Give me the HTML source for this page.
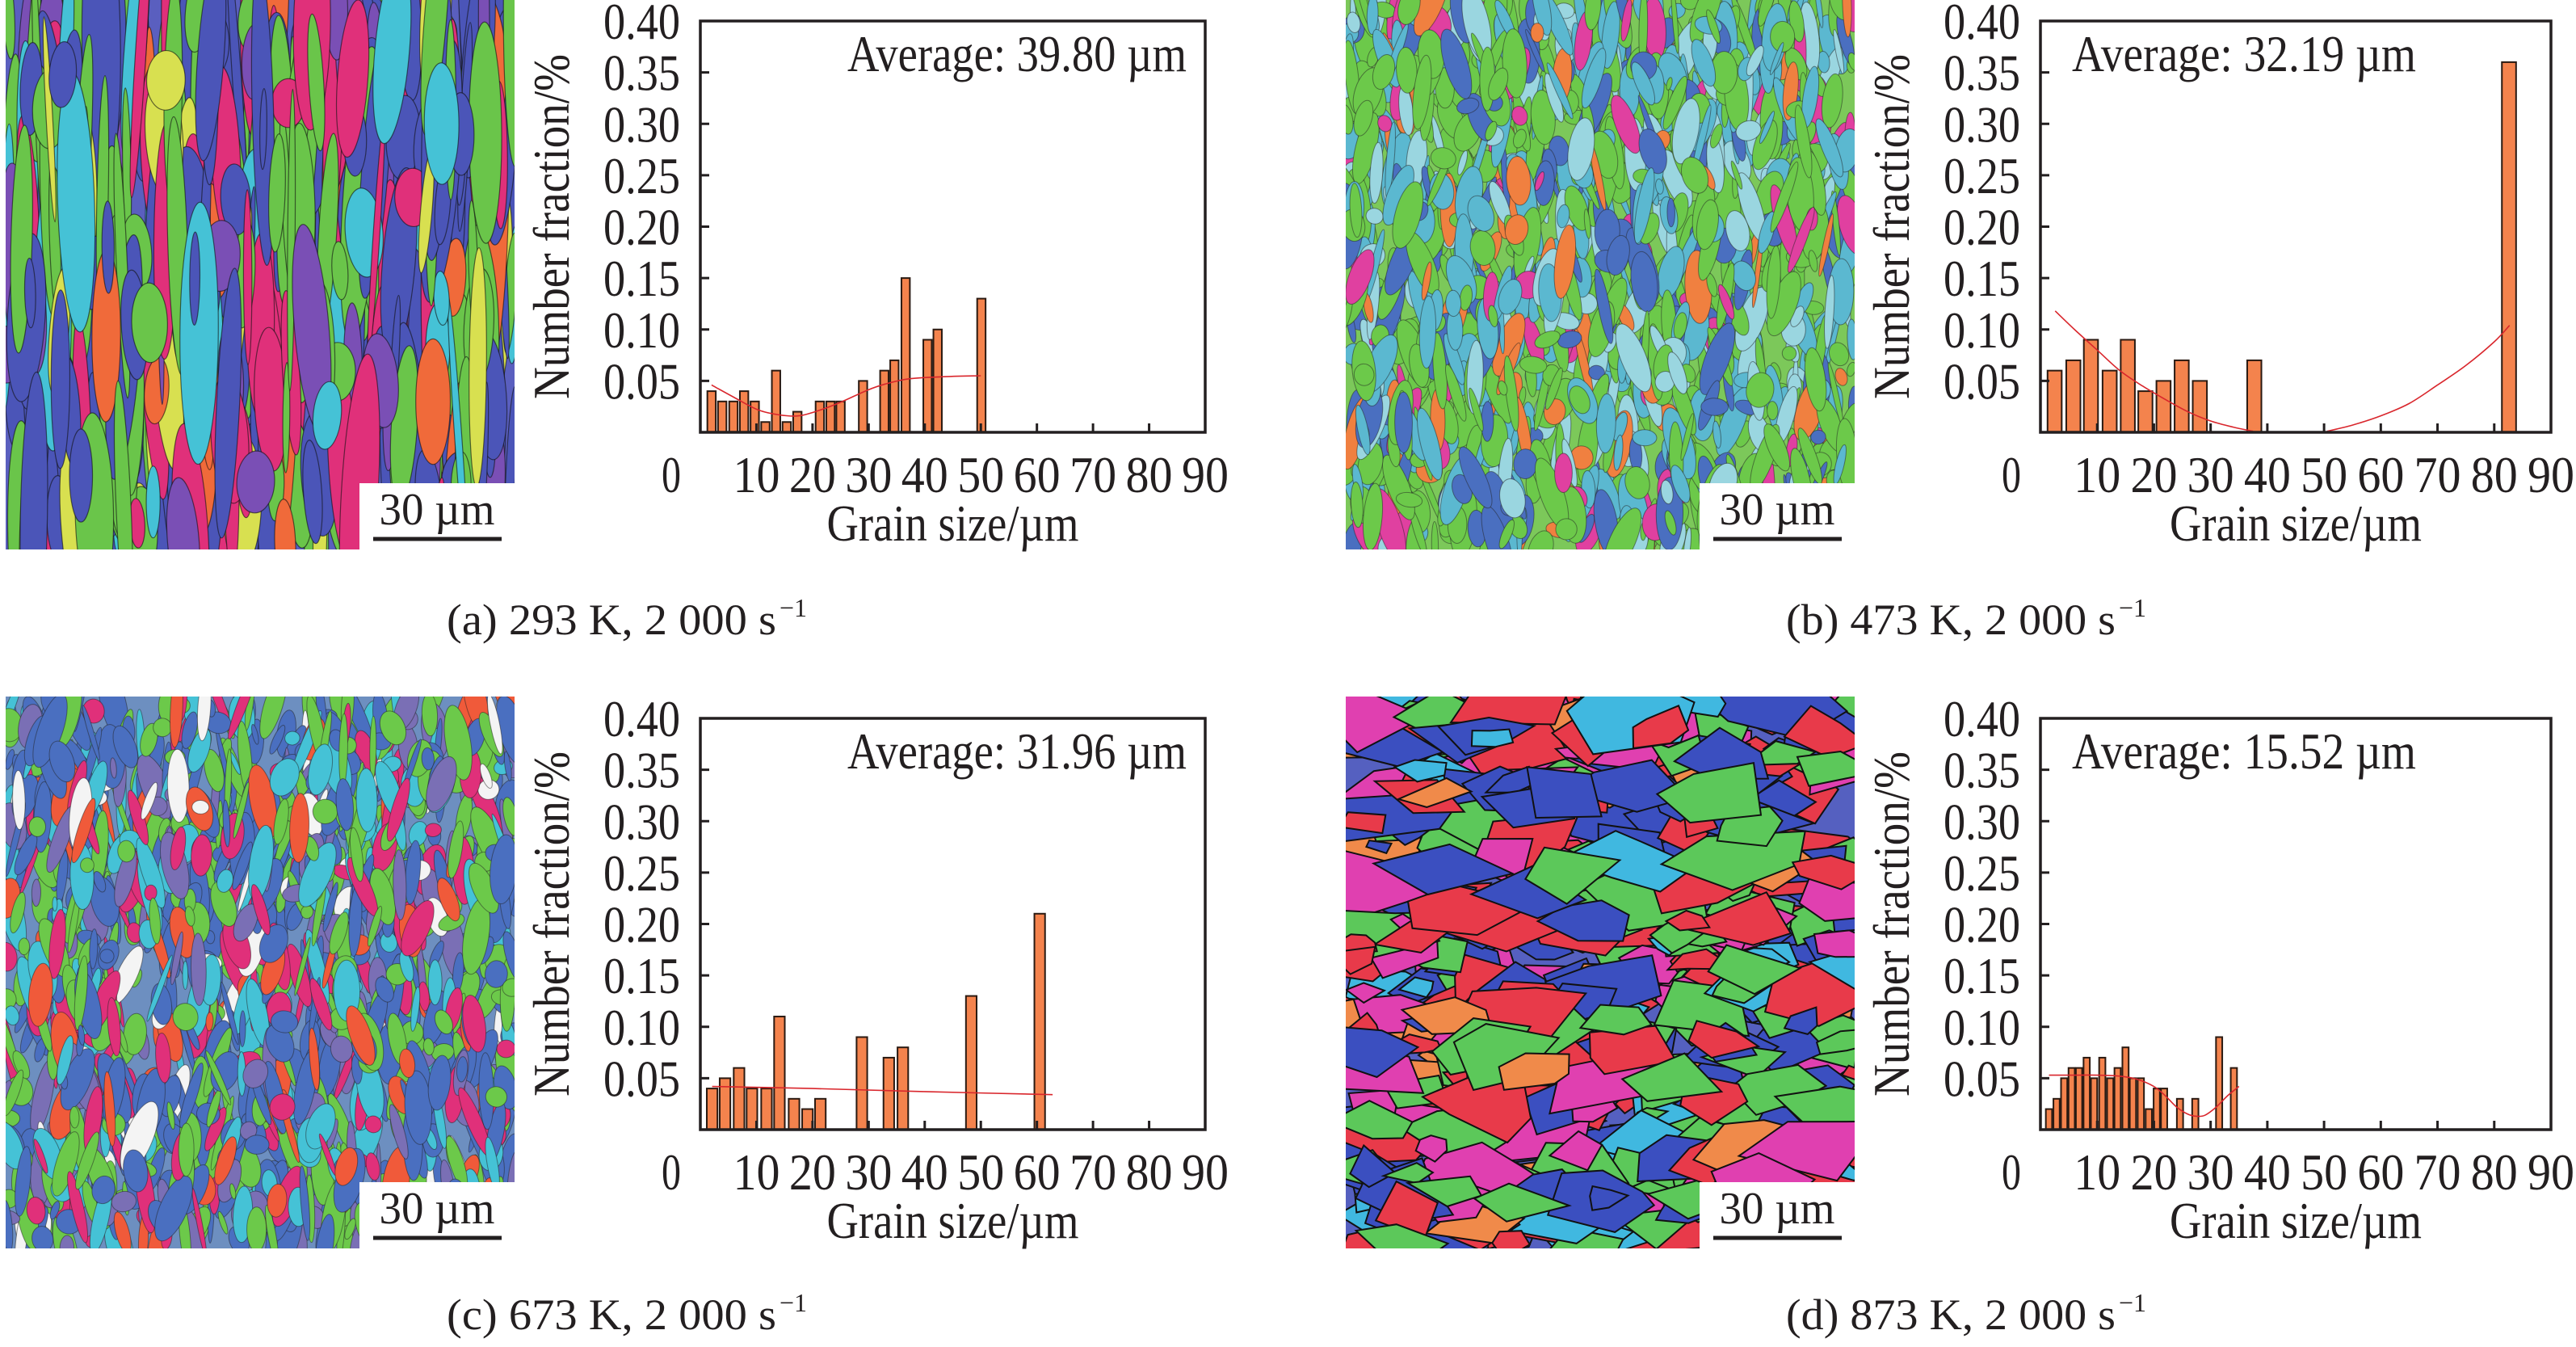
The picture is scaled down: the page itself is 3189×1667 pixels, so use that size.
<!DOCTYPE html>
<html><head><meta charset="utf-8">
<style>
html,body{margin:0;padding:0;background:#fff;}
svg{display:block;}
text{font-family:"Liberation Serif",serif;fill:#231f20;}
</style></head>
<body>
<svg id="fig" xmlns="http://www.w3.org/2000/svg" width="3189" height="1667" viewBox="0 0 3189 1667">
<rect x="0" y="0" width="3189" height="1667" fill="#fff"/>
<g id="micros"></g>
<g id="charts"></g>
<g id="captions"></g>
</svg>
<script>
// ---------- Panel (a) data ----------
const aCats = [2.0,3.9,5.9,7.8,9.7,11.6,13.5,15.4,17.3,21.3,23.2,25.0,29.0,32.8,34.6,36.6,40.5,42.3,50.1];
const aVals = [0.04,0.03,0.03,0.04,0.03,0.01,0.06,0.01,0.02,0.03,0.03,0.03,0.05,0.06,0.07,0.15,0.09,0.10,0.13];
const aFitX = [2,6,10.2,14,17.5,21,24.9,29.8,33,37.2,43,50];
const aFitY = [0.046,0.034,0.022,0.017,0.016,0.021,0.029,0.041,0.047,0.052,0.054,0.055];
// ---------- Panel (b) data ----------
const bCats = [2.5,5.8,8.9,12.2,15.4,18.5,21.7,24.9,28.1,37.7,82.6];
const bVals = [0.06,0.07,0.09,0.06,0.09,0.04,0.05,0.07,0.05,0.07,0.36];
const bFitX1 = [2.6,6,10,14,18,22,26,30,34,37.5];
const bFitY1 = [0.118,0.100,0.080,0.060,0.045,0.032,0.020,0.011,0.005,0.001];
const bFitX2 = [50.5,55,60,65,70,75,80,82.7];
const bFitY2 = [0.001,0.007,0.016,0.028,0.046,0.065,0.088,0.104];
// ---------- Panel (c) data ----------
const cCats = [2.1,4.4,6.9,9.2,11.8,14.1,16.7,19.1,21.4,28.8,33.6,36.1,48.3,60.5];
const cVals = [0.04,0.05,0.06,0.04,0.04,0.11,0.03,0.02,0.03,0.09,0.07,0.08,0.13,0.21];
const cFitX = [2.1,20,40,62.8];
const cFitY = [0.042,0.040,0.037,0.034];
// ---------- Panel (d) data ----------
const dCats = [1.5,2.84,4.18,5.5,6.8,8.15,9.45,10.9,12.3,13.6,15.0,16.3,17.7,19.1,20.5,21.8,24.6,27.3,31.5,34.1];
const dVals = [0.02,0.03,0.05,0.06,0.06,0.07,0.05,0.07,0.05,0.06,0.08,0.05,0.05,0.02,0.04,0.04,0.03,0.03,0.09,0.06];
const dFitX = [1.5,5,10,14,17,20,22,24,26,27.5,29,31,33,35];
const dFitY = [0.053,0.053,0.053,0.052,0.049,0.042,0.033,0.022,0.015,0.013,0.014,0.022,0.033,0.042];
const xTicks = [10,20,30,40,50,60,70,80,90];
const yTicks = [0.05,0.10,0.15,0.20,0.25,0.30,0.35,0.40];
const yTickLabels = ["0.05","0.10","0.15","0.20","0.25","0.30","0.35","0.40"];

const NS = "http://www.w3.org/2000/svg";
function mk(tag, attrs, parent){
  const e = document.createElementNS(NS, tag);
  for (const k in attrs) e.setAttribute(k, attrs[k]);
  parent.appendChild(e);
  return e;
}
function smoothPath(pts){
  let d = "M"+pts[0][0]+","+pts[0][1];
  for (let i=0;i<pts.length-1;i++){
    const p0=pts[Math.max(0,i-1)], p1=pts[i], p2=pts[i+1], p3=pts[Math.min(pts.length-1,i+2)];
    const c1x=p1[0]+(p2[0]-p0[0])/6, c1y=p1[1]+(p2[1]-p0[1])/6;
    const c2x=p2[0]-(p3[0]-p1[0])/6, c2y=p2[1]-(p3[1]-p1[1])/6;
    d += " C"+c1x+","+c1y+" "+c2x+","+c2y+" "+p2[0]+","+p2[1];
  }
  return d;
}

function drawChart(key, L, R, T, B, cats, vals, barUnits, fits, avg, avgRight){
  const root = document.getElementById("charts");
  const g = mk("g", {}, root);
  
  
  const x = v => L + v/90*(R-L);
  const y = v => B - v/0.4*(B-T);
  const bw = barUnits/90*(R-L);
  for (let i=0;i<cats.length;i++){
    const r = mk("rect", {x:x(cats[i])-bw/2, y:y(vals[i]), width:bw, height:B-y(vals[i]), fill:"#f4834d", stroke:"#2a1a12", "stroke-width":2}, g);
    
    
  }
  for (const f of fits){
    const pts = f[0].map((v,i)=>[x(v), y(f[1][i])]);
    const p = mk("path", {d:smoothPath(pts), fill:"none", stroke:"#d9262c", "stroke-width":1.6}, g);
    
    
  }
  const fr = mk("rect", {x:L, y:T, width:R-L, height:B-T, fill:"none", stroke:"#231f20", "stroke-width":3.5}, g);
  
  
  for (let i=0;i<yTicks.length;i++){
    const yy = y(yTicks[i]);
    if (i < yTicks.length-1) mk("line", {x1:L, x2:L+11, y1:yy, y2:yy, stroke:"#231f20", "stroke-width":3}, g);
    const t = mk("text", {x:L-25, y:yy+22, "text-anchor":"end", "font-size":64, textLength:95, lengthAdjust:"spacingAndGlyphs"}, g);
    t.textContent = yTickLabels[i];
    
    
  }
  for (let i=0;i<xTicks.length;i++){
    const xx = x(xTicks[i]);
    if (i < xTicks.length-1) mk("line", {x1:xx, x2:xx, y1:B, y2:B-11, stroke:"#231f20", "stroke-width":3}, g);
    const t = mk("text", {x:xx, y:B+74, "text-anchor":"middle", "font-size":64, textLength:58, lengthAdjust:"spacingAndGlyphs"}, g);
    t.textContent = String(xTicks[i]);
    
    
  }
  const z = mk("text", {x:L-36, y:B+74, "text-anchor":"middle", "font-size":64, textLength:24, lengthAdjust:"spacingAndGlyphs"}, g);
  z.textContent = "0";
  
  
  const yt = mk("text", {x:0, y:0, "text-anchor":"middle", "font-size":64, textLength:427, lengthAdjust:"spacingAndGlyphs", transform:"translate("+(L-163)+","+((T+B)/2)+") rotate(-90)"}, g);
  yt.textContent = "Number fraction/%";
  
  
  const xt = mk("text", {x:(L+R)/2, y:B+134, "text-anchor":"middle", "font-size":64, textLength:312, lengthAdjust:"spacingAndGlyphs"}, g);
  xt.textContent = "Grain size/\u00b5m";
  
  
  const at = mk("text", avgRight ? {x:R-23, y:T+62, "text-anchor":"end", "font-size":64, textLength:420, lengthAdjust:"spacingAndGlyphs"} : {x:L+39, y:T+62, "text-anchor":"start", "font-size":64, textLength:426, lengthAdjust:"spacingAndGlyphs"}, g);
  at.textContent = avg;
  
  
}

drawChart("a", 867, 1492, 26, 535, aCats, aVals, 1.5, [[aFitX,aFitY]], "Average: 39.80 \u00b5m", true);
drawChart("b", 2526, 3158, 26, 535, bCats, bVals, 2.5, [[bFitX1,bFitY1],[bFitX2,bFitY2]], "Average: 32.19 \u00b5m", false);
drawChart("c", 867, 1492, 889, 1398, cCats, cVals, 1.9, [[cFitX,cFitY]], "Average: 31.96 \u00b5m", true);
drawChart("d", 2526, 3158, 889, 1398, dCats, dVals, 1.1, [[dFitX,dFitY]], "Average: 15.52 \u00b5m", false);

// ---------- micrographs (decorative texture) ----------
function rng(seed){ return function(){ seed|=0; seed=seed+0x6D2B79F5|0; let t=Math.imul(seed^seed>>>15,1|seed); t=t+Math.imul(t^t>>>7,61|t)^t; return ((t^t>>>14)>>>0)/4294967296; }; }
function micro(key, X, Y, W, H, base, palette, mode, seed){
  const root = document.getElementById("micros");
  const g = mk("g", {}, root);
  
  
  const cid = "clip-"+key;
  const cp = mk("clipPath", {id:cid}, g);
  mk("rect", {x:X, y:Y, width:W, height:H}, cp);
  const inner = mk("g", {"clip-path":"url(#"+cid+")"}, g);
  mk("rect", {x:X, y:Y, width:W, height:H, fill:base}, inner);
  const r = rng(seed);
  const pick = () => { let s=r(), acc=0; for (const p of palette){ acc+=p[1]; if (s<=acc) return p[0]; } return palette[0][0]; };
  if (mode === "streak"){
    for (let i=0;i<520;i++){
      const cx=X+r()*W, cy=Y+r()*H, rx=4+r()*20, ry=30+r()*160;
      mk("ellipse", {cx:cx, cy:cy, rx:rx, ry:ry, fill:pick(), stroke:"#111", "stroke-width":1.2, "stroke-opacity":0.6, transform:"rotate("+((r()-0.5)*10)+" "+cx+" "+cy+")"}, inner);
    }
  } else if (mode === "speckle"){
    for (let i=0;i<1300;i++){
      const cx=X+r()*W, cy=Y+r()*H, rx=3+r()*14, ry=8+r()*40;
      mk("ellipse", {cx:cx, cy:cy, rx:rx, ry:ry, fill:pick(), stroke:"#222", "stroke-width":1, "stroke-opacity":0.5, transform:"rotate("+((r()-0.5)*50)+" "+cx+" "+cy+")"}, inner);
    }
  } else {
    for (let i=0;i<520;i++){
      const cx=X+r()*W, cy=Y+r()*H, s=18+r()*55;
      const n=4+Math.floor(r()*3), a0=r()*6.28;
      let pts=[];
      for (let k=0;k<n;k++){ const a=a0+k*6.283/n+(r()-0.5)*0.6, rr=s*(0.5+r()*0.7); pts.push((cx+Math.cos(a)*rr*1.3).toFixed(1)+","+(cy+Math.sin(a)*rr*0.7).toFixed(1)); }
      mk("polygon", {points:pts.join(" "), fill:pick(), stroke:"#111", "stroke-width":2}, inner);
    }
  }
  const sb = mk("g", {}, g);
  
  
  mk("rect", {x:X+W-192, y:Y+H-82, width:192, height:82, fill:"#fff"}, sb);
  mk("line", {x1:X+W-175, x2:X+W-16, y1:Y+H-13, y2:Y+H-13, stroke:"#231f20", "stroke-width":5}, sb);
  const st = mk("text", {x:X+W-96, y:Y+H-31, "text-anchor":"middle", "font-size":56, textLength:143, lengthAdjust:"spacingAndGlyphs"}, sb);
  st.textContent = "30 \u00b5m";
}
micro("a", 7, 0, 630, 680, "#5a5fbf", [["#4b55b8",0.3],["#6ac54a",0.25],["#e0307a",0.15],["#7a4fb5",0.1],["#45c2d6",0.08],["#d8e050",0.05],["#f06a3a",0.07]], "streak", 11);
micro("b", 1666, 0, 630, 680, "#7cc85a", [["#6cc94a",0.4],["#5bb8d0",0.25],["#4a6fc0",0.12],["#e040a0",0.06],["#9ad6e0",0.12],["#f08040",0.05]], "speckle", 23);
micro("c", 7, 862, 630, 683, "#6d8fc0", [["#4a6fc0",0.3],["#6cc94a",0.28],["#e0307a",0.1],["#45c2d6",0.12],["#7a6fb5",0.1],["#f05a3a",0.06],["#f4f4f4",0.04]], "speckle", 37);
micro("d", 1666, 862, 630, 683, "#5560c0", [["#3b4fc0",0.3],["#e83a4a",0.2],["#5cc85a",0.2],["#e040b0",0.15],["#40b8e0",0.1],["#f08a4a",0.05]], "poly", 53);

// ---------- captions ----------
const caps = [["(a) 293 K, 2 000 s","a",765,785],["(b) 473 K, 2 000 s","b",2423,785],["(c) 673 K, 2 000 s","c",765,1645],["(d) 873 K, 2 000 s","d",2423,1645]];
const cg = document.getElementById("captions");
for (const c of caps){
  const t = mk("text", {x:c[2]-8, y:c[3], "text-anchor":"middle", "font-size":54, textLength:408, lengthAdjust:"spacingAndGlyphs"}, cg);
  t.textContent = c[0];
  
  
  const s = mk("text", {x:c[2]+200, y:c[3]-22, "font-size":32}, cg);
  s.textContent = "\u22121";
  
  
}
</script>
</body></html>
